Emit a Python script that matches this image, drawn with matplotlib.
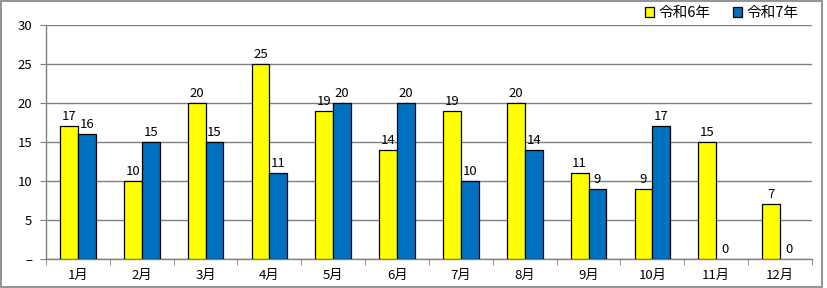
import matplotlib
matplotlib.use("Agg")
import matplotlib.pyplot as plt
from matplotlib.patches import Rectangle
import numpy as np

plt.rcParams['font.family'] = ['Noto Sans CJK JP', 'DejaVu Sans']

months = ['1月', '2月', '3月', '4月', '5月', '6月', '7月', '8月', '9月', '10月', '11月', '12月']
r6 = [17, 10, 20, 25, 19, 14, 19, 20, 11, 9, 15, 7]
r7 = [16, 15, 15, 11, 20, 20, 10, 14, 9, 17, 0, 0]
series_names = ['令和6年', '令和7年']
yticks = [0, 5, 10, 15, 20, 25, 30]
ytick_labels = ['–', '5', '10', '15', '20', '25', '30']

W, H = 827, 288
fig = plt.figure(figsize=(W / 100, H / 100), dpi=100)
ax = fig.add_axes([46 / W, 1 - 259 / H, (812 - 46) / W, (259 - 25) / H])

x = np.arange(len(months))
bw = 0.28
yellow = '#FFFF00'
blue = '#0070C0'
b1 = ax.bar(x - bw / 2, r6, bw, color=yellow, edgecolor='black', linewidth=0.9, zorder=3)
b2 = ax.bar(x + bw / 2, r7, bw, color=blue, edgecolor='black', linewidth=0.9, zorder=3)
for bars, vals in ((b1, r6), (b2, r7)):
    for rect, v in zip(bars, vals):
        if v == 0:
            rect.set_linewidth(0)
        ax.text(rect.get_x() + rect.get_width() / 2, v + 0.4, str(v), ha='center', va='bottom', fontsize=9.5)

ax.set_xlim(-0.5, len(months) - 0.5)
ax.set_ylim(0, 30)
ax.set_yticks(yticks)
ax.set_yticklabels(ytick_labels, fontsize=9.5)
ax.yaxis.grid(True, color='#808080', linewidth=1, zorder=0)
ax.set_axisbelow(True)
ax.set_xticks(x)
ax.set_xticklabels(months, fontsize=9.5)
ax.tick_params(axis='x', length=0, pad=7)
ax.set_xticks(np.arange(len(months) + 1) - 0.5, minor=True)
ax.tick_params(axis='x', which='minor', length=4, color='#808080')
ax.tick_params(axis='y', length=4, color='#808080', pad=6)
for s in ['top', 'right']:
    ax.spines[s].set_visible(False)
for s in ['left', 'bottom']:
    ax.spines[s].set_color('#808080')
    ax.spines[s].set_linewidth(1)

leg = ax.legend([b1, b2], series_names, loc='lower right', bbox_to_anchor=(0.992, 0.99),
                ncol=2, frameon=False, fontsize=10.5, handlelength=0.6, handleheight=0.6,
                handletextpad=0.3, columnspacing=1.6, borderaxespad=0.1)

fig.patches.append(Rectangle((1 / W, 1 / H), 821 / W, 286 / H, transform=fig.transFigure,
                             fill=False, edgecolor='#808080', linewidth=1.2))
fig.savefig('out.png', dpi=100)
